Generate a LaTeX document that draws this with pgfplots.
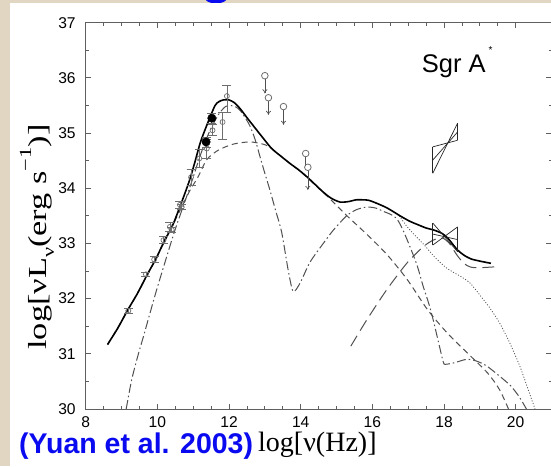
\documentclass[border=0pt]{standalone}
\usepackage{pgfplots}
\pgfplotsset{compat=1.18}
\usepackage{fontspec}
\setmainfont{Liberation Serif}
\setsansfont{Liberation Sans}
\usetikzlibrary{arrows.meta}
\definecolor{marble}{RGB}{224,214,194}
\definecolor{axisgray}{RGB}{95,95,95}
\definecolor{curvegray}{RGB}{80,80,80}
\definecolor{pointgray}{RGB}{110,110,110}
\definecolor{refblue}{RGB}{10,10,240}
\begin{document}
\begin{tikzpicture}
\useasboundingbox (0pt,0pt) rectangle (551pt,466pt);
% slide background and white panel
\fill[marble] (0pt,0pt) rectangle (551pt,466pt);
\fill[refblue] (216pt,468pt) ellipse [x radius=11pt, y radius=5.5pt];
\fill[white] (10pt,0pt) rectangle (551pt,462.7pt);
\begin{axis}[
  at={(85.7pt,57pt)}, anchor=south west,
  scale only axis, width=465.8pt, height=386.3pt,
  xmin=8, xmax=21, ymin=30, ymax=37,
  xtick={8,10,...,20}, ytick={30,31,...,37},
  minor x tick num=3, minor y tick num=1,
  tick align=inside,
  major tick length=5.5pt, minor tick length=3pt,
  axis line style={axisgray, line width=0.9pt},
  every tick/.style={axisgray, line width=0.8pt},
  tick label style={font=\sffamily\fontsize{15.6}{18}\selectfont, black},
  /pgf/number format/assume math mode=true,
  xticklabel style={yshift=-3.8pt},
  yticklabel style={xshift=-6.5pt},
  clip=true,
]
% synchrotron + Compton of thermal electrons
\addplot[curvegray, line width=1.0pt, dash pattern=on 9pt off 3pt on 1.5pt off 3pt, smooth, tension=0.45] coordinates {
(9.13,30.0) (9.28,30.52) (9.45,30.95) (9.61,31.31) (9.80,31.75) (9.98,32.16) (10.26,32.76) (10.49,33.24) (10.72,33.67) (10.96,34.12) (11.2,34.6) (11.45,35.02) (11.7,35.33) (11.9,35.48) (12.05,35.50) (12.2,35.47) (12.31,35.41) (12.45,35.28) (12.59,35.12) (12.73,34.88) (12.87,34.56) (13.0,34.27) (13.14,33.97) (13.29,33.62) (13.47,33.20) (13.65,32.52) (13.79,32.13) (13.98,32.28) (14.26,32.66) (14.63,33.0) (14.91,33.24) (15.28,33.50) (15.55,33.61) (15.84,33.66) (16.1,33.64) (16.31,33.58) (16.50,33.53) (16.68,33.45) (16.85,33.25) (17.05,32.94) (17.25,32.60) (17.42,32.22) (17.58,31.90) (17.70,31.61) (17.85,31.20) (17.98,30.85) (18.04,30.81) (18.3,30.84) (18.63,30.90) (18.9,30.87) (19.19,30.78) (19.56,30.59) (19.86,30.42) (20.1,30.22) (20.3,30.0)};
% synchrotron of nonthermal electrons
\addplot[curvegray, line width=1.0pt, dash pattern=on 6pt off 4pt, smooth, tension=0.45] coordinates {
(8.61,31.16) (9.16,31.77) (9.72,32.43) (10.19,33.02) (10.65,33.62) (10.9,33.95) (11.14,34.21) (11.38,34.52) (11.70,34.69) (12.12,34.80) (12.59,34.84) (13.0,34.79) (13.19,34.72) (13.45,34.58) (13.70,34.45) (13.95,34.33) (14.17,34.20) (14.45,34.03) (14.75,33.85) (15.31,33.49) (15.87,33.15) (16.42,32.79) (16.98,32.34) (17.54,31.80) (18.1,31.37) (18.66,31.01) (19.22,30.65) (19.55,30.35) (19.8,30.0)};
% bremsstrahlung
\addplot[curvegray, line width=1.0pt, dash pattern=on 12pt off 6pt, smooth, tension=0.45] coordinates {
(15.4,31.14) (15.84,31.61) (16.40,32.16) (16.96,32.64) (17.42,32.94) (17.70,33.06) (17.95,33.10) (18.15,33.00) (18.35,32.80) (18.55,32.64) (18.75,32.57) (19.0,32.56) (19.5,32.58)};
% dotted branch
\addplot[curvegray, line width=0.8pt, dash pattern=on 1pt off 1.8pt, smooth, tension=0.45] coordinates {
(16.75,33.50) (16.95,33.32) (17.14,33.18) (17.45,32.97) (17.73,32.76) (18.08,32.55) (18.47,32.40) (18.73,32.28) (19.03,32.04) (19.28,31.83) (19.56,31.55) (19.84,31.19) (20.12,30.77) (20.35,30.35) (20.54,30.0)};
% total spectrum
\addplot[black, line width=1.6pt, smooth, tension=0.45] coordinates {
(8.61,31.17) (8.90,31.47) (9.16,31.78) (9.45,32.10) (9.72,32.44) (9.96,32.72) (10.19,33.04) (10.42,33.32) (10.65,33.70) (10.89,34.13) (11.05,34.48) (11.21,34.85) (11.44,35.24) (11.61,35.50) (11.72,35.57) (11.84,35.60) (12.0,35.60) (12.15,35.55) (12.3,35.45) (12.5,35.28) (12.73,35.09) (12.95,34.91) (13.19,34.72) (13.45,34.58) (13.70,34.45) (13.95,34.33) (14.17,34.21) (14.40,34.07) (14.63,33.93) (14.85,33.82) (15.10,33.75) (15.35,33.76) (15.54,33.79) (15.75,33.79) (15.91,33.78) (16.15,33.72) (16.42,33.64) (16.80,33.49) (17.05,33.40) (17.27,33.34) (17.50,33.28) (17.73,33.24) (17.95,33.18) (18.10,33.10) (18.25,32.98) (18.38,32.88) (18.55,32.79) (18.75,32.72) (19.0,32.68) (19.31,32.64)};
% radio to submm measurements
\addplot[pointgray, only marks, mark=o, mark size=2.5pt, mark options={line width=0.7pt},
  error bars/.cd, y dir=both, y explicit,
  error bar style={pointgray, line width=0.7pt},
  error mark options={rotate=90, pointgray, mark size=4.5pt, line width=0.7pt}] coordinates {
(9.19,31.78) +- (0,0.04)
(9.68,32.44) +- (0,0.04)
(9.91,32.71) +- (0,0.05)
(10.17,33.06) +- (0,0.06)
(10.35,33.30) +- (0,0.08)
(10.40,33.25) +- (0,0.05)
(10.63,33.70) +- (0,0.06)
(10.68,33.66) +- (0,0.05)
(10.94,34.20) +- (0,0.14)
(11.17,34.54) +- (0,0.16)
(11.38,34.72) +- (0,0.17)
(11.54,35.05) +- (0,0.10)
(11.82,35.20) += (0,0.17) -= (0,0.31)
(11.94,35.67) += (0,0.19) -= (0,0.29)};
\addplot[black, only marks, mark=*, mark size=4.2pt,
  error bars/.cd, y dir=both, y explicit,
  error bar style={pointgray, line width=0.7pt},
  error mark options={rotate=90, pointgray, mark size=4.5pt, line width=0.7pt}] coordinates {
(11.36,34.84) +- (0,0.09)
(11.52,35.27) +- (0,0.09)};
% infrared upper limits
\addplot[pointgray, only marks, mark=o, mark size=3.3pt, mark options={line width=0.8pt}] coordinates {
(13.00,36.04) (13.10,35.64) (13.52,35.48) (14.14,34.63) (14.20,34.38)};
\addplot[curvegray, line width=0.7pt, -{To[length=4pt,width=5pt]}] coordinates {(13.00,35.98) (13.00,35.72)};
\addplot[curvegray, line width=0.7pt, -{To[length=4pt,width=5pt]}] coordinates {(13.10,35.58) (13.10,35.33)};
\addplot[curvegray, line width=0.7pt, -{To[length=4pt,width=5pt]}] coordinates {(13.52,35.42) (13.52,35.15)};
\addplot[curvegray, line width=0.7pt] coordinates {(14.14,34.57) (14.14,34.40)};
\addplot[curvegray, line width=0.7pt, -{To[length=4pt,width=5pt]}] coordinates {(14.20,34.32) (14.20,33.97)};
% X-ray bow ties
\addplot[black!85, line width=0.7pt] coordinates {(17.685,34.75) (17.685,34.27)};
\addplot[black!85, line width=0.7pt] coordinates {(18.38,35.18) (18.38,34.87)};
\addplot[black!85, line width=0.7pt] coordinates {(17.685,34.75) (18.38,34.87)};
\addplot[black!85, line width=0.7pt] coordinates {(17.685,34.51) (18.38,35.02)};
\addplot[black!85, line width=0.7pt] coordinates {(17.685,34.27) (18.38,35.18)};
\addplot[black!85, line width=0.7pt] coordinates {(17.685,33.37) (17.685,32.97)};
\addplot[black!85, line width=0.7pt] coordinates {(18.38,33.30) (18.38,32.85)};
\addplot[black!85, line width=0.7pt] coordinates {(17.685,33.37) (18.38,32.85)};
\addplot[black!85, line width=0.7pt] coordinates {(17.685,33.17) (18.38,33.07)};
\addplot[black!85, line width=0.7pt] coordinates {(17.685,32.97) (18.38,33.30)};
\end{axis}
% labels
\node[font=\sffamily\fontsize{25.5}{28}\selectfont, anchor=base west, inner sep=0pt] at (421.7pt,393.3pt) {Sgr A};
\node[font=\sffamily\fontsize{10}{12}\selectfont, anchor=north, inner sep=0pt] at (490.5pt,419.5pt) {*};
\node[rotate=90, anchor=base, inner sep=0pt, font=\fontsize{26}{30}\selectfont] at (46.7pt,229pt)
  {\scalebox{1.32}[1]{log[νL\raisebox{-0.28em}{\fontsize{17}{17}\selectfont ν}(erg s\raisebox{0.6em}{\fontsize{17}{17}\selectfont −1})]}};
\node[anchor=base west, inner sep=0pt, font=\fontsize{28}{30}\selectfont] at (258pt,15pt) {log[ν(Hz)]};
\node[anchor=base west, inner sep=0pt, font=\sffamily\bfseries\fontsize{28.5}{30}\selectfont, text=refblue] at (19pt,13pt) {(Yuan et al. 2003)};
\end{tikzpicture}
\end{document}
